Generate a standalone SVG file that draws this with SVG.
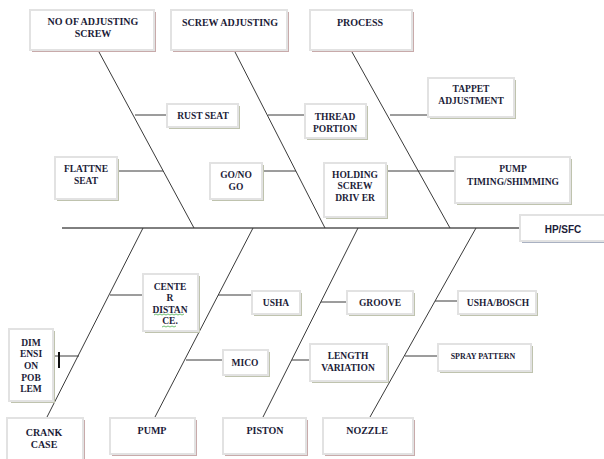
<svg xmlns="http://www.w3.org/2000/svg" width="604" height="459" viewBox="0 0 604 459">
<defs>
<style>
.bx{fill:#fff;stroke:#e2e2e2;stroke-width:2}
.sp{fill:#c8aaaa}
.sg{fill:#bfc3ae}
.sb{fill:#a9b1c2}
.t{font-family:"Liberation Serif","Times New Roman",serif;font-weight:bold;font-size:9.5px;fill:#1c1c38;text-anchor:middle}
.c{font-size:10px}
.s{font-family:"Liberation Sans",Arial,sans-serif;font-weight:bold;font-size:10px;fill:#1c1c38;text-anchor:middle}
.ln{stroke:#3a3a3a;stroke-width:1;fill:none}
</style>
</defs>
<rect width="604" height="459" fill="#fff"/>
<g id="connectors">
<line class="ln" x1="62" y1="228" x2="520" y2="228" style="stroke:#000"/>
<line class="ln" x1="99" y1="52" x2="194" y2="228"/>
<line class="ln" x1="235" y1="52" x2="325" y2="228"/>
<line class="ln" x1="352" y1="52" x2="450" y2="228"/>
<line class="ln" x1="135" y1="115" x2="167" y2="115"/>
<line class="ln" x1="117" y1="171" x2="163" y2="171"/>
<line class="ln" x1="268" y1="115" x2="305" y2="115"/>
<line class="ln" x1="262" y1="171" x2="296" y2="171"/>
<line class="ln" x1="390" y1="115" x2="428" y2="115"/>
<line class="ln" x1="386" y1="171" x2="455" y2="171"/>
<line class="ln" x1="143" y1="228" x2="47" y2="417"/>
<line class="ln" x1="253" y1="228" x2="155" y2="417"/>
<line class="ln" x1="358" y1="228" x2="263" y2="417"/>
<line class="ln" x1="476" y1="228" x2="370" y2="417"/>
<line class="ln" x1="110" y1="295" x2="143" y2="295"/>
<line class="ln" x1="53" y1="356" x2="79" y2="356"/>
<line x1="59" y1="352" x2="59" y2="368" stroke="#111" stroke-width="2"/>
<line class="ln" x1="218" y1="295" x2="252" y2="295"/>
<line class="ln" x1="186" y1="360" x2="223" y2="360"/>
<line class="ln" x1="321" y1="302" x2="347" y2="302"/>
<line class="ln" x1="292" y1="360" x2="310" y2="360"/>
<line class="ln" x1="435" y1="301" x2="458" y2="301"/>
<line class="ln" x1="405" y1="356" x2="438" y2="356"/>
</g>
<g id="n1"><rect class="sp" x="32" y="12" width="124" height="40"/><rect class="bx" x="30" y="10" width="124" height="40"/><text class="t c" x="93" y="24.5">NO OF ADJUSTING</text><text class="t c" x="93" y="36.5">SCREW</text></g>
<g id="n2"><rect class="sp" x="173" y="12" width="116" height="40"/><rect class="bx" x="171" y="10" width="116" height="40"/><text class="t c" x="230" y="26">SCREW ADJUSTING</text></g>
<g id="n3"><rect class="sp" x="312" y="12" width="102" height="40"/><rect class="bx" x="310" y="10" width="102" height="40"/><text class="t c" x="360" y="26">PROCESS</text></g>
<g id="n4"><rect class="sg" x="169" y="106" width="71" height="23"/><rect class="bx" x="167" y="104" width="71" height="23"/><text class="t" x="203" y="118.5">RUST SEAT</text></g>
<g id="n5"><rect class="sg" x="307" y="106" width="61" height="34"/><rect class="bx" x="305" y="104" width="61" height="34"/><text class="t" x="335" y="119.5">THREAD</text><text class="t" x="335" y="131.5">PORTION</text></g>
<g id="n6"><rect class="sg" x="430" y="80" width="86" height="39"/><rect class="bx" x="428" y="78" width="86" height="39"/><text class="t" x="471" y="92">TAPPET</text><text class="t" x="471" y="104">ADJUSTMENT</text></g>
<g id="n7"><rect class="sg" x="57" y="159" width="62" height="42"/><rect class="bx" x="55" y="157" width="62" height="42"/><text class="t" x="86" y="172">FLATTNE</text><text class="t" x="86" y="184">SEAT</text></g>
<g id="n8"><rect class="sg" x="212" y="165" width="52" height="36"/><rect class="bx" x="210" y="163" width="52" height="36"/><text class="t" x="236" y="177.5">GO/NO</text><text class="t" x="236" y="189.5">GO</text></g>
<g id="n9"><rect class="sg" x="326" y="165" width="62" height="54"/><rect class="bx" x="324" y="163" width="62" height="54"/><text class="t" x="355" y="177.5">HOLDING</text><text class="t" x="355" y="189">SCREW</text><text class="t" x="355" y="200.5">DRIV ER</text></g>
<g id="n10"><rect class="sg" x="457" y="159" width="115" height="46"/><rect class="bx" x="455" y="157" width="115" height="46"/><text class="t" x="513" y="172">PUMP</text><text class="t" x="513" y="185">TIMING/SHIMMING</text></g>
<g id="n11"><rect class="sb" x="522" y="217" width="84" height="26"/><rect class="bx" x="520" y="215" width="86" height="26"/><text class="s" x="563" y="232.5">HP/SFC</text></g>
<g id="n12"><rect class="sg" x="145" y="276" width="55" height="57"/><rect class="bx" x="143" y="274" width="55" height="57"/><text class="t" x="170" y="289.5">CENTE</text><text class="t" x="170" y="301">R</text><text class="t" x="170" y="312.5">DISTAN</text><text class="t" x="170" y="324">CE.</text><path d="M154 315 l2 -1 l2 1 l2 -1 l2 1 l2 -1 l2 1 l2 -1 l2 1 l2 -1 l2 1 l2 -1 l2 1 l2 -1 l2 1 l2 -1 M162 327 l2 -1 l2 1 l2 -1 l2 1 l2 -1 l2 1 l2 -1" fill="none" stroke="#4caf50" stroke-width="0.8"/></g>
<g id="n13"><rect class="sg" x="11" y="331" width="44" height="72"/><rect class="bx" x="9" y="329" width="44" height="72"/><text class="t" x="31" y="345.5">DIM</text><text class="t" x="31" y="357">ENSI</text><text class="t" x="31" y="369">ON</text><text class="t" x="31" y="380.5">POB</text><text class="t" x="31" y="392">LEM</text></g>
<g id="n14"><rect class="sg" x="254" y="293" width="48" height="23"/><rect class="bx" x="252" y="291" width="48" height="23"/><text class="t" x="276" y="306">USHA</text></g>
<g id="n15"><rect class="sg" x="225" y="352" width="45" height="25"/><rect class="bx" x="223" y="350" width="45" height="25"/><text class="t" x="245" y="365.5">MICO</text></g>
<g id="n16"><rect class="sg" x="349" y="293" width="66" height="23"/><rect class="bx" x="347" y="291" width="66" height="23"/><text class="t" x="380" y="306">GROOVE</text></g>
<g id="n17"><rect class="sg" x="312" y="346" width="77" height="37"/><rect class="bx" x="310" y="344" width="77" height="37"/><text class="t" x="348" y="358.5">LENGTH</text><text class="t" x="348" y="370.5">VARIATION</text></g>
<g id="n18"><rect class="sg" x="460" y="293" width="78" height="23"/><rect class="bx" x="458" y="291" width="78" height="23"/><text class="t" x="498" y="306">USHA/BOSCH</text></g>
<g id="n19"><rect class="sg" x="440" y="346" width="93" height="27"/><rect class="bx" x="438" y="344" width="93" height="27"/><text class="t" x="483" y="359" style="font-size:8px">SPRAY PATTERN</text></g>
<g id="n20"><rect class="sp" x="9" y="420" width="76" height="41"/><rect class="bx" x="7" y="418" width="76" height="43"/><text class="t c" x="44" y="435.5">CRANK</text><text class="t c" x="44" y="447.5">CASE</text></g>
<g id="n21"><rect class="sp" x="112" y="420" width="85" height="36"/><rect class="bx" x="110" y="418" width="85" height="36"/><text class="t c" x="152" y="433.5">PUMP</text></g>
<g id="n22"><rect class="sp" x="225" y="420" width="83" height="36"/><rect class="bx" x="223" y="418" width="83" height="36"/><text class="t c" x="265" y="433.5">PISTON</text></g>
<g id="n23"><rect class="sp" x="325" y="420" width="90" height="36"/><rect class="bx" x="323" y="418" width="90" height="36"/><text class="t c" x="367" y="433.5">NOZZLE</text></g>
</svg>
